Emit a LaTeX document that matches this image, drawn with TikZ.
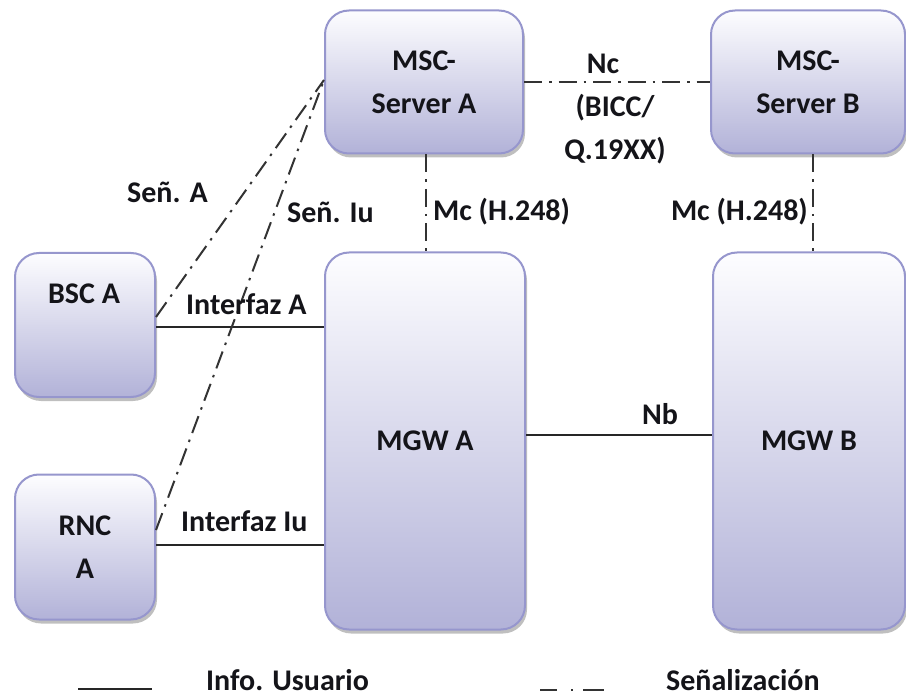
\documentclass[tikz,border=0pt]{standalone}
\usepackage{fontspec}
\setmainfont{Carlito}
\usetikzlibrary{shadows,calc}
\definecolor{boxedge}{RGB}{150,150,205}
\definecolor{boxtop}{RGB}{253,253,255}
\definecolor{boxbot}{RGB}{178,178,216}
\definecolor{txt}{RGB}{20,20,25}
\tikzset{
  box/.style={draw=boxedge, line width=2pt, rounded corners=24pt,
    top color=boxtop, bottom color=boxbot,
    drop shadow={opacity=0.5, shadow xshift=2pt, shadow yshift=-4pt},
    inner sep=0pt, font=\bfseries\fontsize{30}{43}\selectfont, text=txt, align=center},
  lbl/.style={font=\bfseries\fontsize{30}{43}\selectfont, text=txt, align=center, inner sep=0pt},
  userline/.style={line width=2pt, draw=black!85},
  signal/.style={line width=2pt, draw=black!80, dash pattern=on 18pt off 7pt on 2.5pt off 7pt},
}
\begin{document}
\begin{tikzpicture}[x=1pt,y=-1pt]
\useasboundingbox (0,0) rectangle (906,698);
% boxes
\node[box, minimum width=198pt, minimum height=143pt] (mscA) at (424,82)
  {\fontsize{30}{49}\selectfont MSC-\\Server A};
\node[box, minimum width=194pt, minimum height=143pt] (mscB) at (808,82)
  {\fontsize{30}{49}\selectfont MSC-\\Server B};
\node[box, minimum width=140pt, minimum height=144pt] (bsc) at (85,325) {};
\node[lbl] (bsct) at (84,294) {BSC A};
\node[box, minimum width=140pt, minimum height=145pt] (rnc) at (85,547) {RNC\\A};
\node[box, minimum width=200pt, minimum height=377pt] (mgwA) at (425,441) {MGW A};
\node[box, minimum width=192pt, minimum height=377pt] (mgwB) at (809,441) {MGW B};

% user lines
\draw[userline] ([yshift=-2pt]bsc.east) -- ([yshift=-2pt]bsc.east -| mgwA.west);
\draw[userline] ([yshift=2pt]rnc.east) -- ([yshift=2pt]rnc.east -| mgwA.west);
\draw[userline] ([yshift=6pt]mgwA.east) -- ([yshift=6pt]mgwA.east -| mgwB.west);

% signalling lines
\draw[signal] (mscA.east) -- (mscB.west);
\draw[signal] ([xshift=2pt]mscA.south) -- ([xshift=2pt]mscA.south |- mgwA.north);
\draw[signal] ([xshift=5pt]mscB.south) -- ([xshift=5pt]mscB.south |- mgwB.north);
\draw[signal] ([yshift=8pt]bsc.east) -- ([yshift=2pt]mscA.west);
\draw[signal] ([yshift=17pt]rnc.east) -- ([yshift=2pt]mscA.west);

% labels
\node[lbl] (nc) at (603,64) {Nc};
\node[lbl, text width=130pt] (bicc) at (615,129) {(BICC/\\Q.19XX)};
\node[lbl, anchor=west] (mcA) at (433,212) {Mc (H.248)};
\node[lbl, anchor=east] (mcB) at (808,212) {Mc (H.248)};
\node[lbl, anchor=west] (senA) at (127,192) {Señ. A};
\node[lbl, anchor=west] (senIu) at (287,212) {Señ. Iu};
\node[lbl, anchor=west] (ifA) at (186,304) {Interfaz A};
\node[lbl, anchor=west] (ifIu) at (181,521) {Interfaz Iu};
\node[lbl] (nb) at (660,414) {Nb};

% legend
\coordinate (l1a) at (78,689);
\coordinate (l1b) at (152,689);
\draw[userline] (l1a) -- (l1b);
\node[lbl, anchor=base west] (leg1) at (206,690) {Info. Usuario};
\coordinate (l2a) at (540,690);
\coordinate (l2b) at (604,690);
\draw[line width=1.8pt, draw=black!80, dash pattern=on 17pt off 14pt on 2pt off 10pt on 21pt] (l2a) -- (l2b);
\node[lbl, anchor=base west] (leg2) at (666,690) {Señalización};
\end{tikzpicture}
\end{document}
